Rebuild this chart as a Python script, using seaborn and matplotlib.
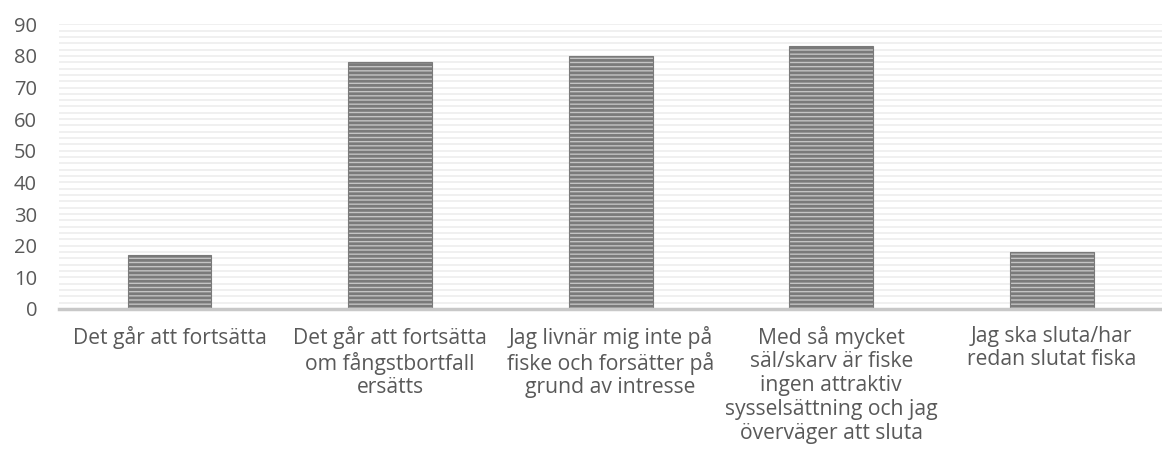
import matplotlib
matplotlib.use("Agg")
import matplotlib.pyplot as plt
import seaborn as sns
import pandas as pd
from matplotlib.ticker import MultipleLocator

# svar på frågan om framtiden i fisket
categories = [
    "Det går att fortsätta",
    "Det går att fortsätta\nom fångstbortfall\nersätts",
    "Jag livnär mig inte på\nfiske och forsätter på\ngrund av intresse",
    "Med så mycket\nsäl/skarv är fiske\ningen attraktiv\nsysselsättning och jag\növerväger att sluta",
    "Jag ska sluta/har\nredan slutat fiska",
]
values = [17, 78, 80, 83, 18]
y_ticks = list(range(0, 100, 10))

df = pd.DataFrame({"kategori": categories, "andel": values})

sns.set_style("white")
plt.rcParams["font.family"] = ["Open Sans", "DejaVu Sans"]
plt.rcParams["hatch.linewidth"] = 2.0
plt.rcParams["hatch.color"] = "#5f5f5f"

fig = plt.figure(figsize=(11.62, 4.66), dpi=100)
ax = fig.add_axes([0.051, 0.337, 0.949, 0.611])

sns.barplot(data=df, x="kategori", y="andel", ax=ax, width=0.38,
            color="#c4c4c4", saturation=1, edgecolor="#7a7a7a", linewidth=0.8)
for bar in ax.patches:
    bar.set_hatch("----")

# faint striped background
ax.yaxis.set_minor_locator(MultipleLocator(2))
ax.grid(axis="y", which="both", color="#f0f0f0", linewidth=1.4)
ax.set_axisbelow(True)

ax.set_ylim(0, 90)
ax.set_yticks(y_ticks)
ax.set_xlim(-0.5, len(categories) - 0.5)
ax.set_xlabel("")
ax.set_ylabel("")

for side in ["top", "right", "left"]:
    ax.spines[side].set_visible(False)
ax.spines["bottom"].set_color("#c8c8c8")
ax.spines["bottom"].set_linewidth(2.5)

ax.tick_params(axis="y", which="both", length=0, labelsize=14.5, colors="#595959", pad=16)
ax.tick_params(axis="x", length=0, labelsize=15.2, colors="#595959", pad=12)
for lab in ax.get_xticklabels():
    lab.set_linespacing(1.17)
    lab.set_verticalalignment("top")

fig.savefig("out.png", dpi=100)
